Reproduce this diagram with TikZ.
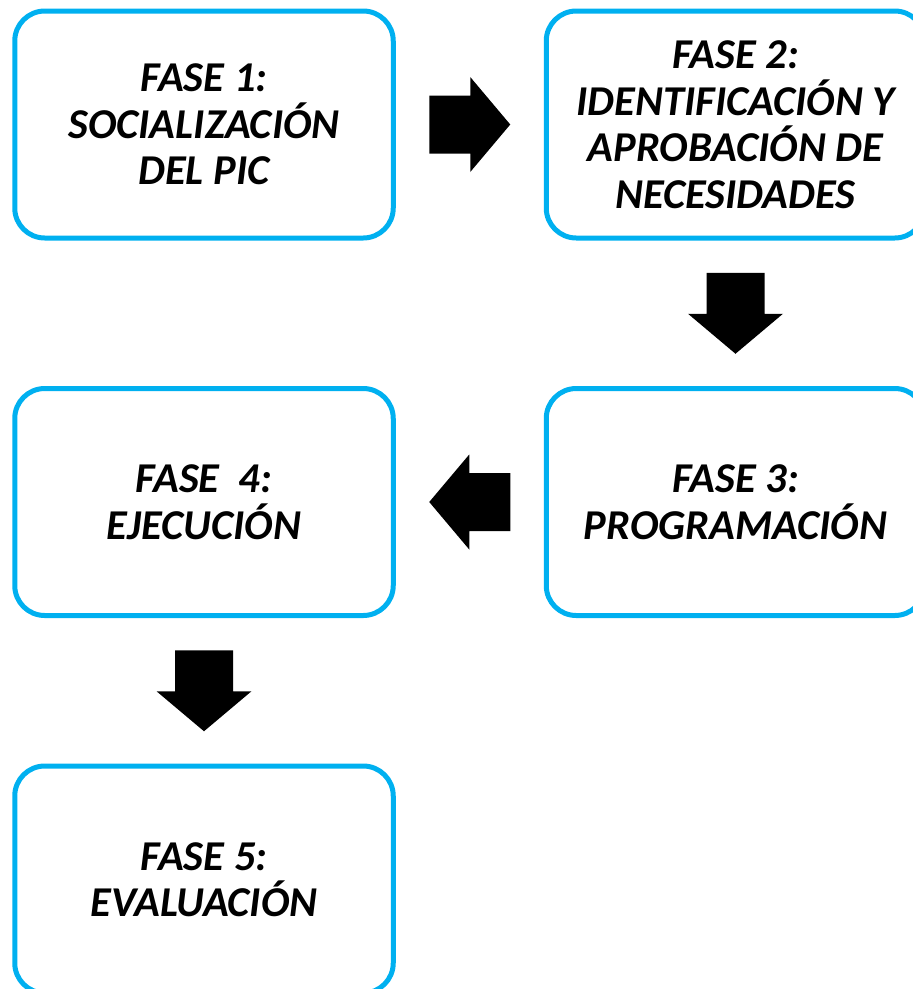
\documentclass[tikz,border=0pt]{standalone}
\usepackage{fontspec}
\setmainfont{Carlito}
\usetikzlibrary{calc}
\definecolor{faseblue}{HTML}{00B0F0}
\tikzset{
  fase/.style={draw=faseblue, line width=5pt, rounded corners=30pt,
    minimum width=378.5pt, minimum height=227pt, inner sep=0pt,
    align=center, font=\fontsize{42.5}{46.5}\selectfont\bfseries\itshape},
  blockarrow/.pic={
    \fill[black] (-40.5,-29) -- (0.5,-29) -- (0.5,-47.5) -- (40.5,0)
      -- (0.5,47.5) -- (0.5,29) -- (-40.5,29) -- cycle;
  }
}
\begin{document}
\begin{tikzpicture}[x=1pt, y=-1pt]
  \useasboundingbox (0,0) rectangle (913,989);
  \clip (0,0) rectangle (913,989);
  % fases
  \node[fase] (f1) at (204,124.5) {FASE 1:\\SOCIALIZACIÓN\\DEL PIC};
  \node[fase] (f2) at (735.5,124.5) {FASE 2:\\IDENTIFICACIÓN Y\\APROBACIÓN DE\\NECESIDADES};
  \node[fase] (f3) at (735.5,502) {FASE 3:\\PROGRAMACIÓN};
  \node[fase] (f4) at (204,502) {FASE\ \ 4:\\EJECUCIÓN};
  \node[fase] (f5) at (204,879.5) {FASE 5:\\EVALUACIÓN};
  % flechas
  \pic at ($(f1.east)!0.5!(f2.west)$) {blockarrow};
  \pic[rotate=-90] at ($(f2.south)!0.5!(f3.north)$) {blockarrow};
  \pic[rotate=180] at ($(f3.west)!0.5!(f4.east)$) {blockarrow};
  \pic[rotate=-90] at ($(f4.south)!0.5!(f5.north)$) {blockarrow};
\end{tikzpicture}
\end{document}
